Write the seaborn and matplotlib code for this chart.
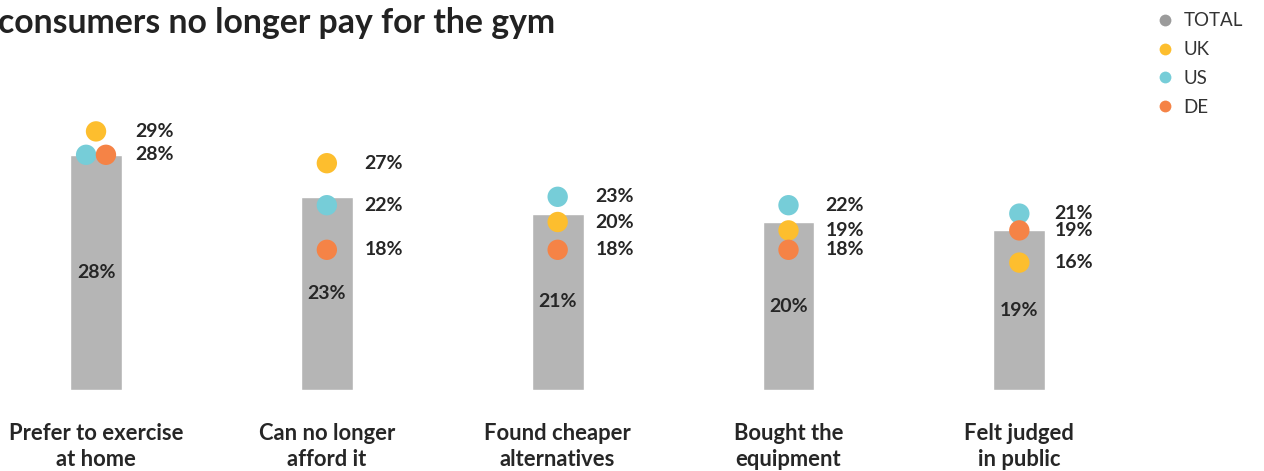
import matplotlib
matplotlib.use("Agg")
import matplotlib.pyplot as plt
import seaborn as sns
import pandas as pd
from matplotlib.lines import Line2D

# ---------------- data ----------------
categories = ["Prefer to exercise\nat home", "Can no longer\nafford it",
              "Found cheaper\nalternatives", "Bought the\nequipment",
              "Felt judged\nin public"]
total = [28, 23, 21, 20, 19]
uk = [29, 27, 20, 19, 16]
us = [28, 22, 23, 22, 21]
de = [28, 18, 18, 18, 19]
countries = ["UK", "US", "DE"]
legend_labels = ["TOTAL", "UK", "US", "DE"]
title = "consumers no longer pay for the gym"

# ---------------- style ----------------
colors = {"TOTAL": "#9B9B9B", "UK": "#FDBE2E", "US": "#76CDD8", "DE": "#F58346"}
BAR_COLOR = "#B5B5B5"
TEXT = "#262626"
W, H = 1264, 471
BASE_PX = 390          # bar baseline, pixels from top
PX_PER_PCT = 8.4
# horizontal dodge (axis units) and vertical nudges (px, + = down) to avoid collisions
DX = {(0, "US"): -0.043, (0, "DE"): 0.043}
NUDGE = {(0, "UK"): -15, (1, "DE"): 11, (2, "DE"): 11, (3, "DE"): 11, (4, "UK"): 7}
LABEL_DX = [0.172, 0.163, 0.163, 0.16, 0.152]

sns.set_theme(style="white")
plt.rcParams["font.family"] = ["Lato", "DejaVu Sans"]

fig = plt.figure(figsize=(W / 100, H / 100), dpi=100)
ax = fig.add_axes([0, (H - BASE_PX) / H, 1, BASE_PX / H])

sns.barplot(x=categories, y=total, order=categories, color=BAR_COLOR,
            saturation=1, width=0.225, ax=ax, zorder=1)

ax.set_xlim(-0.416, 5.06)
ax.set_ylim(0, BASE_PX / PX_PER_PCT)

series = {"UK": uk, "US": us, "DE": de}
rows = []
for c in countries:
    for i, v in enumerate(series[c]):
        rows.append({"x": i + DX.get((i, c), 0.0),
                     "y": v - NUDGE.get((i, c), 0) / PX_PER_PCT,
                     "country": c, "value": v, "cat": i})
df = pd.DataFrame(rows)

sns.scatterplot(data=df, x="x", y="y", hue="country", palette=colors,
                s=215, edgecolor="none", linewidth=0, legend=False, ax=ax, zorder=3)

# value labels for the country dots
seen = set()
for r in df.itertuples():
    key = (r.cat, r.value, round(r.y, 2))
    if key in seen:
        continue
    seen.add(key)
    ax.text(r.cat + LABEL_DX[r.cat], r.y, f"{r.value}%", ha="left", va="center",
            fontsize=14, fontweight="bold", color=TEXT, zorder=4)

# total labels inside bars
for i, v in enumerate(total):
    ax.text(i, v / 2, f"{v}%", ha="center", va="center", fontsize=14,
            fontweight="bold", color=TEXT, zorder=4)

ax.set_xlabel("")
ax.set_ylabel("")
ax.set_yticks([])
ax.tick_params(axis="x", length=0, pad=23.5)
for lab in ax.get_xticklabels():
    lab.set_fontsize(15.8)
    lab.set_fontweight("bold")
    lab.set_color(TEXT)
    lab.set_linespacing(1.34)
sns.despine(ax=ax, left=True, bottom=True)

fig.text(-2 / W, 1 - 33 / H, title, ha="left", va="baseline", fontsize=24.3,
         fontweight="bold", color="#222222")

handles = [Line2D([0], [0], marker="o", linestyle="none", markersize=8.5,
                  markerfacecolor=colors[k], markeredgewidth=0) for k in legend_labels]
leg = fig.legend(handles, legend_labels, loc="upper left",
                 bbox_to_anchor=(1148 / W, 1 - 3 / H), frameon=False,
                 handlelength=0.8, handletextpad=0.6, labelspacing=0.63,
                 borderpad=0, prop={"size": 13.5})
for t in leg.get_texts():
    t.set_color("#333333")

fig.savefig("out.png", dpi=100)
